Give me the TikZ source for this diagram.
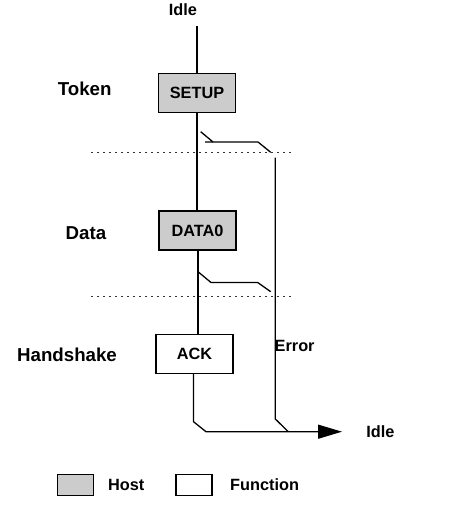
\documentclass[tikz,border=0pt]{standalone}
\usepackage{fontspec}
\setmainfont{Liberation Sans}
\usetikzlibrary{arrows.meta}
\tikzset{
  txt/.style={font=\fontsize{16.3}{19}\selectfont\bfseries, inner sep=0pt},
  phase/.style={font=\fontsize{18.7}{22}\selectfont\bfseries, inner sep=0pt},
  host/.style={draw, line width=1.3pt, fill=gray!40, minimum width=77pt, minimum height=39pt, txt},
  func/.style={draw, line width=1.3pt, fill=white, minimum width=77pt, minimum height=39pt, txt},
  wire/.style={line width=1.3pt},
  sep/.style={line width=0.9pt, black!80, dash pattern=on 2pt off 4pt}
}
\begin{document}
\begin{tikzpicture}[x=1pt,y=-1pt]
    \useasboundingbox (0,0) rectangle (460,517);
    % phase labels
    \node[phase] (tok) at (84.7,88.5) {Token};
    \node[phase] (dat) at (86,233.3) {Data};
    \node[phase] (hs) at (67,355) {Handshake};
    % packets
    \node[txt] (idle1) at (183,10) {Idle};
    \node[host] (setup) at (197,93) {SETUP};
    \node[host] (data) at (197.5,230.5) {DATA0};
    \node[func] (ack) at (194.5,354) {ACK};
    \coordinate (top) at (197,26);
    \draw[wire] (top) -- (top |- setup.north);
    \draw[wire] (setup.south) -- (setup.south |- data.north);
    \draw[wire] ([xshift=0.5pt]data.south) -- ([xshift=0.5pt]data.south |- ack.north);
    % phase separators
    \draw[sep] (91,152.3) -- (293.3,152.3);
    \draw[sep] (91,296.5) -- (293.3,296.5);
    % error branch after token
    \coordinate (a1) at (200.7,131.7);
    \coordinate (a2) at (213,142);
    \coordinate (a3) at (205,142);
    \coordinate (a4) at (258,142);
    \coordinate (a5) at (270.7,152.3);
    \draw[wire] (a1) -- (a2);
    \draw[wire] (a3) -- (a4) -- (a5);
    % error branch after data
    \coordinate (b1) at (198,271.7);
    \coordinate (b2) at (211,282.5);
    \coordinate (b3) at (257.7,282.5);
    \coordinate (b4) at (270.7,291.7);
    \draw[wire] (b1) -- (b2) -- (b3) -- (b4);
    % error line
    \coordinate (e1) at (275.3,157.7);
    \coordinate (e2) at (275.3,419);
    \coordinate (e3) at (288.3,431.7);
    \draw[wire] (e1) -- (e2) -- (e3);
    \node[txt, anchor=west] (err) at (274.5,346) {Error};
    % back to idle
    \coordinate (h1) at (193.5,421.7);
    \coordinate (h2) at (206,431.7);
    \node[txt] (idle2) at (380.3,431.7) {Idle};
    \coordinate (tip) at (342,431.7);
    \draw[wire, -{Triangle[length=24pt,width=14pt]}] (ack.south -| h1) -- (h1) -- (h2) -- (tip);
    % legend
    \node[host, minimum width=36pt, minimum height=21pt] (hkey) at (75.3,485) {};
    \node[txt, anchor=west] (hlab) at (108,485) {Host};
    \node[func, minimum width=36pt, minimum height=21pt] (fkey) at (194,485) {};
    \node[txt, anchor=west] (flab) at (230,485) {Function};
\end{tikzpicture}
\end{document}
